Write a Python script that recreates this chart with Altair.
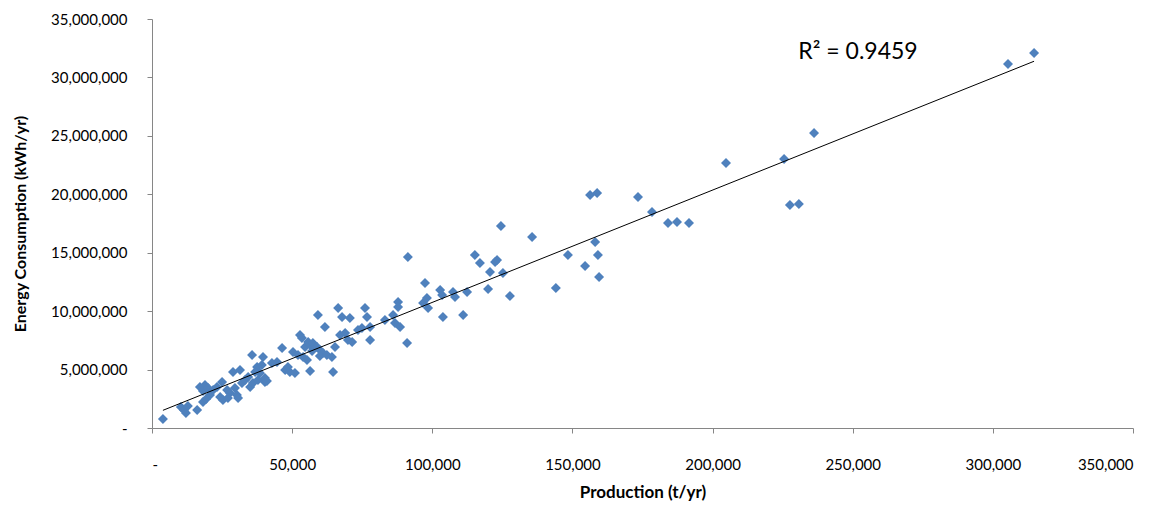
import altair as alt
import pandas as pd

# Production (t/yr)
production = [
    3900, 10300, 11400, 12100, 12800, 16100, 17100, 18900, 18200, 20000,
    18200, 19300, 20700, 21800, 23200, 25000, 24300, 25300, 26800, 27800,
    27100, 28900, 31400, 29600, 30300, 30700, 32100, 33200, 34300, 35000,
    36000, 35700, 37500, 39600, 39200, 37800, 40300, 40300, 36800, 38500,
    41000, 44600, 46400, 47500, 49200, 48500, 50300, 52800, 53500, 52100,
    53900, 55300, 54600, 56400, 55700, 56400, 57400, 58900, 59900, 61000,
    59900, 62400, 64200, 65300, 59200, 61700, 64600, 66400, 67800, 70600,
    67100, 68900, 69900, 71400, 73500, 74900, 76000, 76700, 77800, 77800,
    83100, 86000, 86700, 87800, 87800, 88500, 91000, 97400, 96700, 98100,
    98500, 102800, 103500, 107400, 108100, 112400, 103800, 111000, 91300, 115200,
    117000, 123100, 120600, 125200, 119900, 127700, 124500, 135600, 148400, 154500,
    144100, 156300, 158800, 158100, 159100, 159500, 173400, 178400, 184100, 187300,
    191600, 204800, 225500, 227600, 230800, 236200, 305400, 314700, 122400, 42800,
    51000, 57100,
]
# Energy Consumption (kWh/yr)
energy = [
    770000, 1800000, 1540000, 1280000, 1880000, 1540000, 3510000, 3680000, 3170000, 3420000,
    2220000, 2480000, 2820000, 3250000, 3510000, 3940000, 2650000, 2400000, 3250000, 3000000,
    2570000, 4790000, 4960000, 3420000, 2820000, 2570000, 3850000, 4110000, 4360000, 3510000,
    3850000, 6250000, 5220000, 6080000, 5390000, 4110000, 4280000, 3940000, 4790000, 4710000,
    4020000, 5650000, 6850000, 4960000, 4790000, 5220000, 6500000, 7960000, 7700000, 6250000,
    6080000, 5820000, 6930000, 7100000, 7360000, 4880000, 7270000, 6930000, 6670000, 6420000,
    6160000, 6250000, 6080000, 6930000, 9670000, 8640000, 4790000, 10270000, 9500000, 9410000,
    7960000, 8130000, 7530000, 7360000, 8390000, 8560000, 10270000, 9500000, 8640000, 7530000,
    9240000, 9670000, 8990000, 10780000, 10350000, 8640000, 7270000, 12410000, 10700000, 11120000,
    10270000, 11810000, 11380000, 11640000, 11210000, 11640000, 9500000, 9670000, 14630000, 14800000,
    14120000, 14380000, 13350000, 13260000, 11890000, 11300000, 17290000, 16340000, 14800000, 13860000,
    11980000, 19940000, 20110000, 15920000, 14800000, 12920000, 19770000, 18480000, 17540000, 17630000,
    17540000, 22680000, 23020000, 19080000, 19170000, 25240000, 31150000, 32090000, 14210000, 5560000,
    4710000, 6590000,
]

# Trendline annotation
note_text = ["R\u00b2 = 0.9459"]
note_x = [251900]
note_y = [32200000]

df = pd.DataFrame({"production": production, "energy": energy})
notes = pd.DataFrame({"label": note_text, "x": note_x, "y": note_y})

FONT = "Lato"
AXIS_GREY = "#868686"

x_scale = alt.Scale(domain=[0, 350000], nice=False, zero=True)
y_scale = alt.Scale(domain=[0, 35000000], nice=False, zero=True)

x_axis = alt.Axis(
    title="Production (t/yr)",
    values=[0, 50000, 100000, 150000, 200000, 250000, 300000, 350000],
    labelExpr="datum.value == 0 ? '-' : format(datum.value, ',')",
    grid=False, domainColor=AXIS_GREY, tickColor=AXIS_GREY, tickSize=5,
    labelPadding=24, labelFontSize=15, labelFont=FONT, labelColor="#000000",
    titleFont=FONT, titleFontSize=17, titleFontWeight="bold", titleColor="#000000",
    titlePadding=12,
)
y_axis = alt.Axis(
    title="Energy Consumption  (kWh/yr)",
    values=[0, 5000000, 10000000, 15000000, 20000000, 25000000, 30000000, 35000000],
    labelExpr="datum.value == 0 ? '-' : format(datum.value, ',')",
    grid=False, domainColor=AXIS_GREY, tickColor=AXIS_GREY, tickSize=5,
    labelPadding=20, labelFontSize=15, labelFont=FONT, labelColor="#000000",
    titleFont=FONT, titleFontSize=16, titleFontWeight="bold", titleColor="#000000",
    titlePadding=22,
)

points = alt.Chart(df).mark_point(
    shape="diamond", filled=True, size=100, color="#4F81BD", opacity=1
).encode(
    x=alt.X("production:Q", scale=x_scale, axis=x_axis),
    y=alt.Y("energy:Q", scale=y_scale, axis=y_axis),
)

trend = alt.Chart(df).transform_regression(
    "production", "energy", method="linear"
).mark_line(color="#000000", strokeWidth=1).encode(
    x=alt.X("production:Q", scale=x_scale),
    y=alt.Y("energy:Q", scale=y_scale),
)

label = alt.Chart(notes).mark_text(
    font=FONT, fontSize=23, color="#000000", align="center", baseline="middle"
).encode(
    x=alt.X("x:Q", scale=x_scale),
    y=alt.Y("y:Q", scale=y_scale),
    text="label:N",
)

chart = alt.layer(points, trend, label).properties(
    width=981,
    height=409,
    autosize=alt.AutoSizeParams(type="none"),
    padding={"left": 144, "top": 11, "right": 20, "bottom": 78},
).configure_view(stroke=None)

chart.save("out.html", embed_options={"renderer": "svg", "actions": False})
